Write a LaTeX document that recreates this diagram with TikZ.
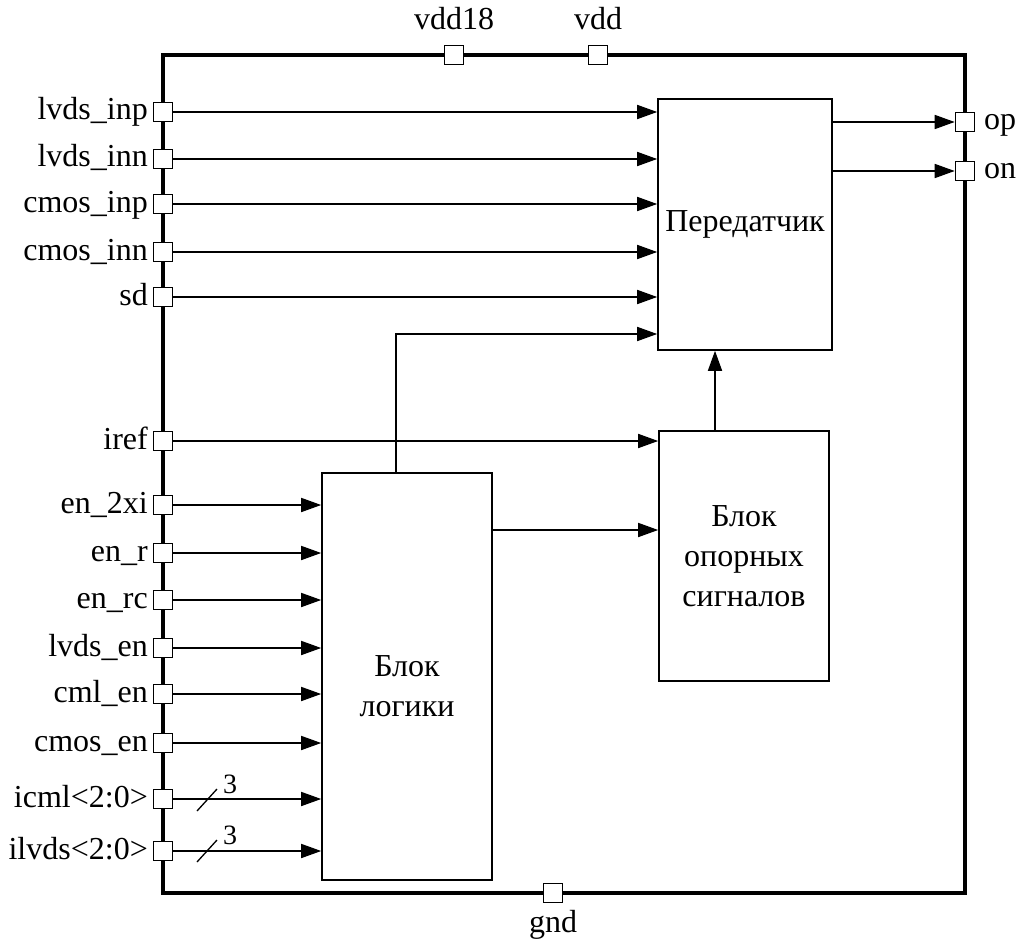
\documentclass[tikz,border=0pt]{standalone}
\usepackage{fontspec}
\setmainfont{Liberation Serif}
\usetikzlibrary{arrows.meta,calc}
\begin{document}
\begin{tikzpicture}[x=1pt,y=-1pt,
 font=\fontsize{32}{40}\selectfont,
 pinbox/.style={draw,line width=1.6pt,fill=white,minimum size=19pt,inner sep=0pt},
 blk/.style={draw,line width=1.6pt,align=center,inner sep=0pt},
 sig/.style={line width=1.6pt,-{Triangle[length=20pt,width=14pt]}},
 lbl/.style={inner sep=0pt,anchor=base east},
 bus/.style={line width=1.3pt},
 busnum/.style={inner sep=0pt,anchor=base west,font=\fontsize{28}{32}\selectfont}]
\useasboundingbox (0,0) rectangle (1025,944);
% outer frame
\draw[line width=4.5pt] (163,55) rectangle (965,893);
% blocks
\node[blk,minimum width=174pt,minimum height=251pt] (trans) at (745,224.5) {Передатчик};
\node[blk,minimum width=170pt,minimum height=250pt] (ref) at (744,556) {Блок\\опорных\\сигналов};
\node[blk,minimum width=170pt,minimum height=407pt] (logic) at (407,676.5) {};
\node[inner sep=0pt,align=center] (logictxt) at (407,686) {Блок\\логики};
% left pins
\foreach \n/\y/\t in {lvdsinp/112/{lvds\_inp},lvdsinn/159/{lvds\_inn},cmosinp/204/{cmos\_inp},cmosinn/252/{cmos\_inn},sd/297/{sd},iref/441/{iref},en2xi/505/{en\_2xi},enr/553/{en\_r},enrc/600/{en\_rc},lvdsen/648/{lvds\_en},cmlen/694/{cml\_en},cmosen/743/{cmos\_en},icml/799/{icml<2:0>},ilvds/851/{ilvds<2:0>}}{
  \node[pinbox] (\n) at (163,\y) {};
  \node[lbl] (\n-l) at (148,\y+8) {\t};
}
% top / bottom / right pins
\node[pinbox] (vdd18) at (454,55) {};
\node[inner sep=0pt,anchor=base] (vdd18-l) at (454,30) {vdd18};
\node[pinbox] (vdd) at (598,55) {};
\node[inner sep=0pt,anchor=base] (vdd-l) at (598,30) {vdd};
\node[pinbox] (gnd) at (553,893) {};
\node[inner sep=0pt,anchor=base] (gnd-l) at (553,932) {gnd};
\node[pinbox] (op) at (965,122) {};
\node[inner sep=0pt,anchor=base west] (op-l) at (984,130) {op};
\node[pinbox] (on) at (965,171) {};
\node[inner sep=0pt,anchor=base west] (on-l) at (984,179) {on};
% inputs to transmitter
\foreach \n in {lvdsinp,lvdsinn,cmosinp,cmosinn,sd}
  \draw[sig] (\n.east) -- (\n.east -| trans.west);
% inputs to logic
\foreach \n in {en2xi,enr,enrc,lvdsen,cmlen,cmosen,icml,ilvds}
  \draw[sig] (\n.east) -- (\n.east -| logic.west);
% iref to reference block
\draw[sig] (iref.east) -- (iref.east -| ref.west);
% logic up to transmitter
\coordinate (up) at (396,334);
\draw[sig] (logic.north -| up) -- (up) -- (up -| trans.west);
% logic to reference
\coordinate (lr) at (0,530);
\draw[sig] (logic.east |- lr) -- (ref.west |- lr);
% reference to transmitter
\coordinate (rt) at (715,0);
\draw[sig] (ref.north -| rt) -- (trans.south -| rt);
% transmitter outputs
\draw[sig] (trans.east |- op) -- (op.west);
\draw[sig] (trans.east |- on) -- (on.west);
% bus markers
\draw[bus] (197,811) -- (217,789);
\node[busnum] (icml-n) at (223,793) {3};
\draw[bus] (197,862) -- (217,840);
\node[busnum] (ilvds-n) at (223,844) {3};
\end{tikzpicture}
\end{document}
